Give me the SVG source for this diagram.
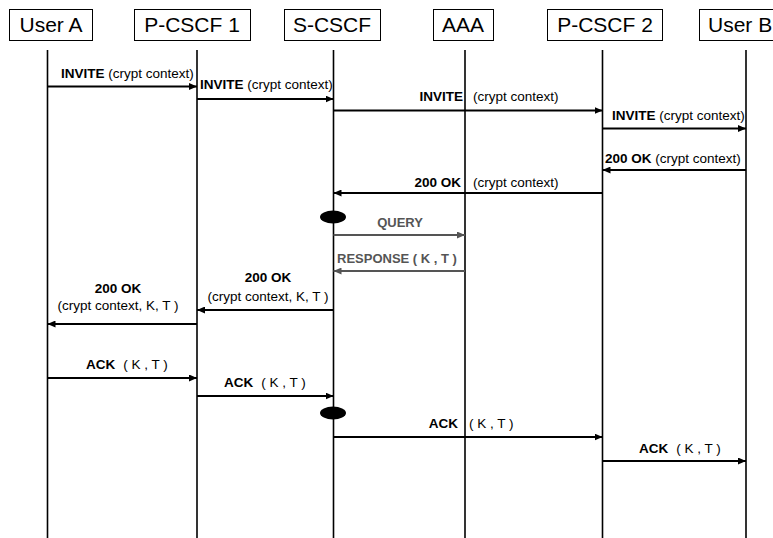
<svg xmlns="http://www.w3.org/2000/svg" width="773" height="538" viewBox="0 0 773 538">
<defs>
<marker id="ah" viewBox="0 0 8 7" refX="8" refY="3.5" markerWidth="8" markerHeight="7" markerUnits="userSpaceOnUse" orient="auto">
<path d="M0,0 L8,3.5 L0,7 Z" fill="#000"/>
</marker>
<marker id="ahg" viewBox="0 0 8 7" refX="8" refY="3.5" markerWidth="8" markerHeight="7" markerUnits="userSpaceOnUse" orient="auto">
<path d="M0,0 L8,3.5 L0,7 Z" fill="#555"/>
</marker>
<style>
.box{fill:#fff;stroke:#000;stroke-width:1}
.hd{font-family:"Liberation Sans",Arial,sans-serif;font-size:21px;fill:#000}
.life{stroke:#000;stroke-width:1.6;fill:none}
.msg{stroke:#000;stroke-width:2;fill:none;marker-end:url(#ah)}
.gmsg{stroke:#555;stroke-width:2;fill:none;marker-end:url(#ahg)}
.lb{font-family:"Liberation Sans",Arial,sans-serif;font-size:13.5px;fill:#000}
.glb{font-family:"Liberation Sans",Arial,sans-serif;font-size:13px;fill:#555;font-weight:bold}
.b{font-weight:bold}
.dot{fill:#000}
</style>
</defs>
<rect width="773" height="538" fill="#fff"/>

<g id="userA">
<rect class="box" x="9.5" y="9.5" width="83" height="31"/>
<text class="hd" x="51" y="32" text-anchor="middle">User A</text>
<line class="life" x1="47.5" y1="50" x2="47.5" y2="538"/>
</g>
<g id="pcscf1">
<rect class="box" x="134.5" y="9.5" width="116" height="31"/>
<text class="hd" x="192" y="32" text-anchor="middle">P-CSCF 1</text>
<line class="life" x1="197" y1="50" x2="197" y2="538"/>
</g>
<g id="scscf">
<rect class="box" x="284.5" y="9.5" width="96" height="31"/>
<text class="hd" x="332" y="32" text-anchor="middle">S-CSCF</text>
<line class="life" x1="333.5" y1="50" x2="333.5" y2="538"/>
</g>
<g id="aaa">
<rect class="box" x="433.5" y="9.5" width="60" height="31"/>
<text class="hd" x="463" y="32" text-anchor="middle">AAA</text>
<line class="life" x1="465" y1="50" x2="465" y2="538"/>
</g>
<g id="pcscf2">
<rect class="box" x="547.5" y="9.5" width="115" height="31"/>
<text class="hd" x="605" y="32" text-anchor="middle">P-CSCF 2</text>
<line class="life" x1="602.5" y1="50" x2="602.5" y2="538"/>
</g>
<g id="userB">
<rect class="box" x="699.5" y="9.5" width="90" height="31"/>
<text class="hd" x="708" y="32">User B</text>
<line class="life" x1="746" y1="50" x2="746" y2="538"/>
</g>

<g id="activations">
<ellipse class="dot" cx="333" cy="217" rx="13" ry="6.5"/>
<ellipse class="dot" cx="333" cy="413" rx="13" ry="6.5"/>
</g>

<g id="connectors">
<line class="msg" x1="47.5" y1="86.5" x2="197" y2="86.5"/>
<line class="msg" x1="197" y1="99" x2="333.5" y2="99"/>
<line class="msg" x1="333.5" y1="110.5" x2="602.5" y2="110.5"/>
<line class="msg" x1="602.5" y1="128.5" x2="746" y2="128.5"/>
<line class="msg" x1="746" y1="170" x2="602.5" y2="170"/>
<line class="msg" x1="602.5" y1="193" x2="333.5" y2="193"/>
<line class="gmsg" x1="333.5" y1="235" x2="465" y2="235"/>
<line class="gmsg" x1="465" y1="271" x2="333.5" y2="271"/>
<line class="msg" x1="333.5" y1="310" x2="197" y2="310"/>
<line class="msg" x1="197" y1="324" x2="47.5" y2="324"/>
<line class="msg" x1="47.5" y1="378" x2="197" y2="378"/>
<line class="msg" x1="197" y1="396" x2="333.5" y2="396"/>
<line class="msg" x1="333.5" y1="437" x2="602.5" y2="437"/>
<line class="msg" x1="602.5" y1="461" x2="746" y2="461"/>
</g>

<g id="labels">
<text class="lb" x="61" y="78"><tspan class="b">INVITE</tspan> (crypt context)</text>
<text class="lb" x="200" y="89"><tspan class="b">INVITE</tspan> (crypt context)</text>
<text class="lb b" x="463" y="101" text-anchor="end">INVITE</text>
<text class="lb" x="473" y="101">(crypt context)</text>
<text class="lb" x="612" y="120"><tspan class="b">INVITE</tspan> (crypt context)</text>
<text class="lb" x="605" y="163"><tspan class="b">200 OK</tspan> (crypt context)</text>
<text class="lb b" x="461" y="187" text-anchor="end">200 OK</text>
<text class="lb" x="473" y="187">(crypt context)</text>
<text class="glb" x="400" y="227" text-anchor="middle">QUERY</text>
<text class="glb" x="337" y="263">RESPONSE ( K , T )</text>
<text class="lb b" x="268" y="282" text-anchor="middle">200 OK</text>
<text class="lb" x="268" y="301" text-anchor="middle">(crypt context, K, T )</text>
<text class="lb b" x="118" y="293" text-anchor="middle">200 OK</text>
<text class="lb" x="118" y="310" text-anchor="middle">(crypt context, K, T )</text>
<text class="lb" x="86" y="369"><tspan class="b">ACK</tspan><tspan dx="8">( K , T )</tspan></text>
<text class="lb" x="224" y="387"><tspan class="b">ACK</tspan><tspan dx="8">( K , T )</tspan></text>
<text class="lb b" x="458" y="428" text-anchor="end">ACK</text>
<text class="lb" x="469" y="428">( K , T )</text>
<text class="lb" x="639" y="453"><tspan class="b">ACK</tspan><tspan dx="8">( K , T )</tspan></text>
</g>
</svg>
